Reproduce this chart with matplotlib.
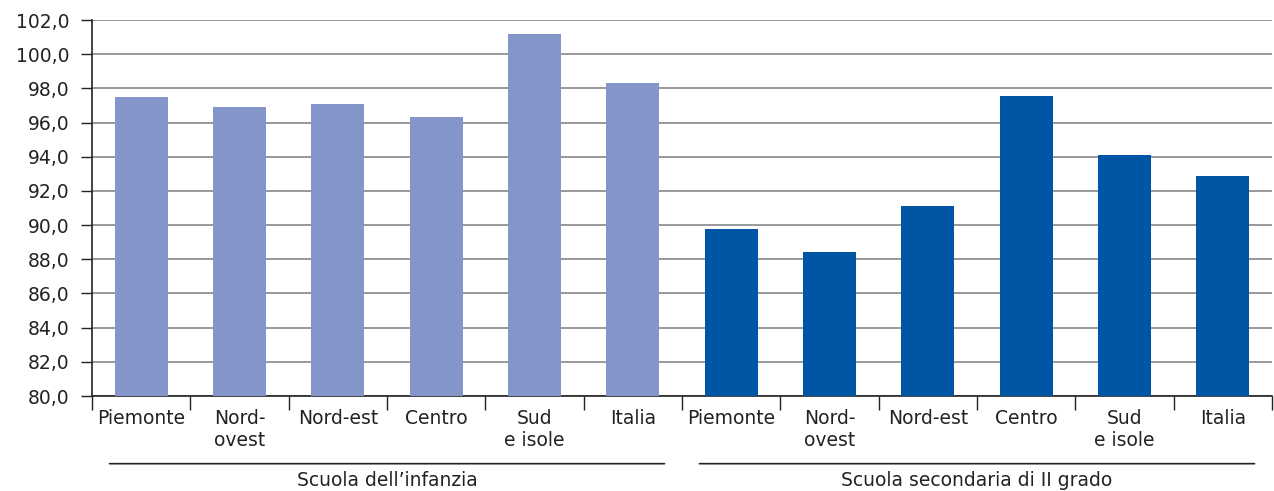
import numpy as np
import matplotlib
matplotlib.use('Agg')
import matplotlib.pyplot as plt

regions = ['Piemonte', 'Nord-\novest', 'Nord-est', 'Centro', 'Sud\ne isole', 'Italia']
groups = ['Scuola dell\u2019infanzia', 'Scuola secondaria di II grado']
infanzia = [97.5, 96.9, 97.1, 96.3, 101.2, 98.3]
secondaria = [89.8, 88.4, 91.1, 97.55, 94.1, 92.9]

light = '#8395c9'
dark = '#0055a4'
ink = '#222222'

plt.rcParams['font.family'] = ['DejaVu Sans']

fig = plt.figure(figsize=(12.74, 4.91), dpi=100)
ax = fig.add_axes([92 / 1274, 1 - 396 / 491, (1272 - 92) / 1274, (396 - 20) / 491])

values = infanzia + secondaria
colors = [light] * len(infanzia) + [dark] * len(secondaria)
x = np.arange(len(values))
ax.bar(x, np.array(values) - 80, bottom=80, width=0.54, color=colors, zorder=3)

ax.set_xlim(-0.5, len(values) - 0.5)
ax.set_ylim(80, 102)
yt = np.arange(80, 103, 2)
ax.set_yticks(yt)
ax.set_yticklabels(['{:.1f}'.format(v).replace('.', ',') for v in yt], fontsize=13.5, color=ink)
ax.yaxis.grid(True, color='#888888', linewidth=1.2, zorder=0)

ax.set_xticks(x)
ax.set_xticklabels(regions * 2, fontsize=13.5, color=ink, linespacing=1.2)
ax.tick_params(axis='x', length=0, pad=9)
ax.set_xticks(np.arange(-0.5, len(values), 1), minor=True)
ax.tick_params(axis='x', which='minor', length=10, width=1, color=ink, direction='out')
ax.tick_params(axis='y', length=8, width=1, color=ink, direction='out', pad=8)

for s in ['top', 'right']:
    ax.spines[s].set_visible(False)
for s in ['left', 'bottom']:
    ax.spines[s].set_color(ink)
    ax.spines[s].set_linewidth(1.2)

# group separators and labels
n = len(regions)
for i, g in enumerate(groups):
    x0 = i * n - 0.35
    x1 = i * n + n - 0.65
    ax.annotate('', xy=(x0, -0.18), xytext=(x1, -0.18), xycoords=('data', 'axes fraction'),
                arrowprops=dict(arrowstyle='-', color=ink, linewidth=1.2),
                annotation_clip=False)
    ax.text(i * n + (n - 1) / 2, -0.2, g, transform=ax.get_xaxis_transform(),
            ha='center', va='top', fontsize=13.5, color=ink)

fig.savefig('out.png', dpi=100)
